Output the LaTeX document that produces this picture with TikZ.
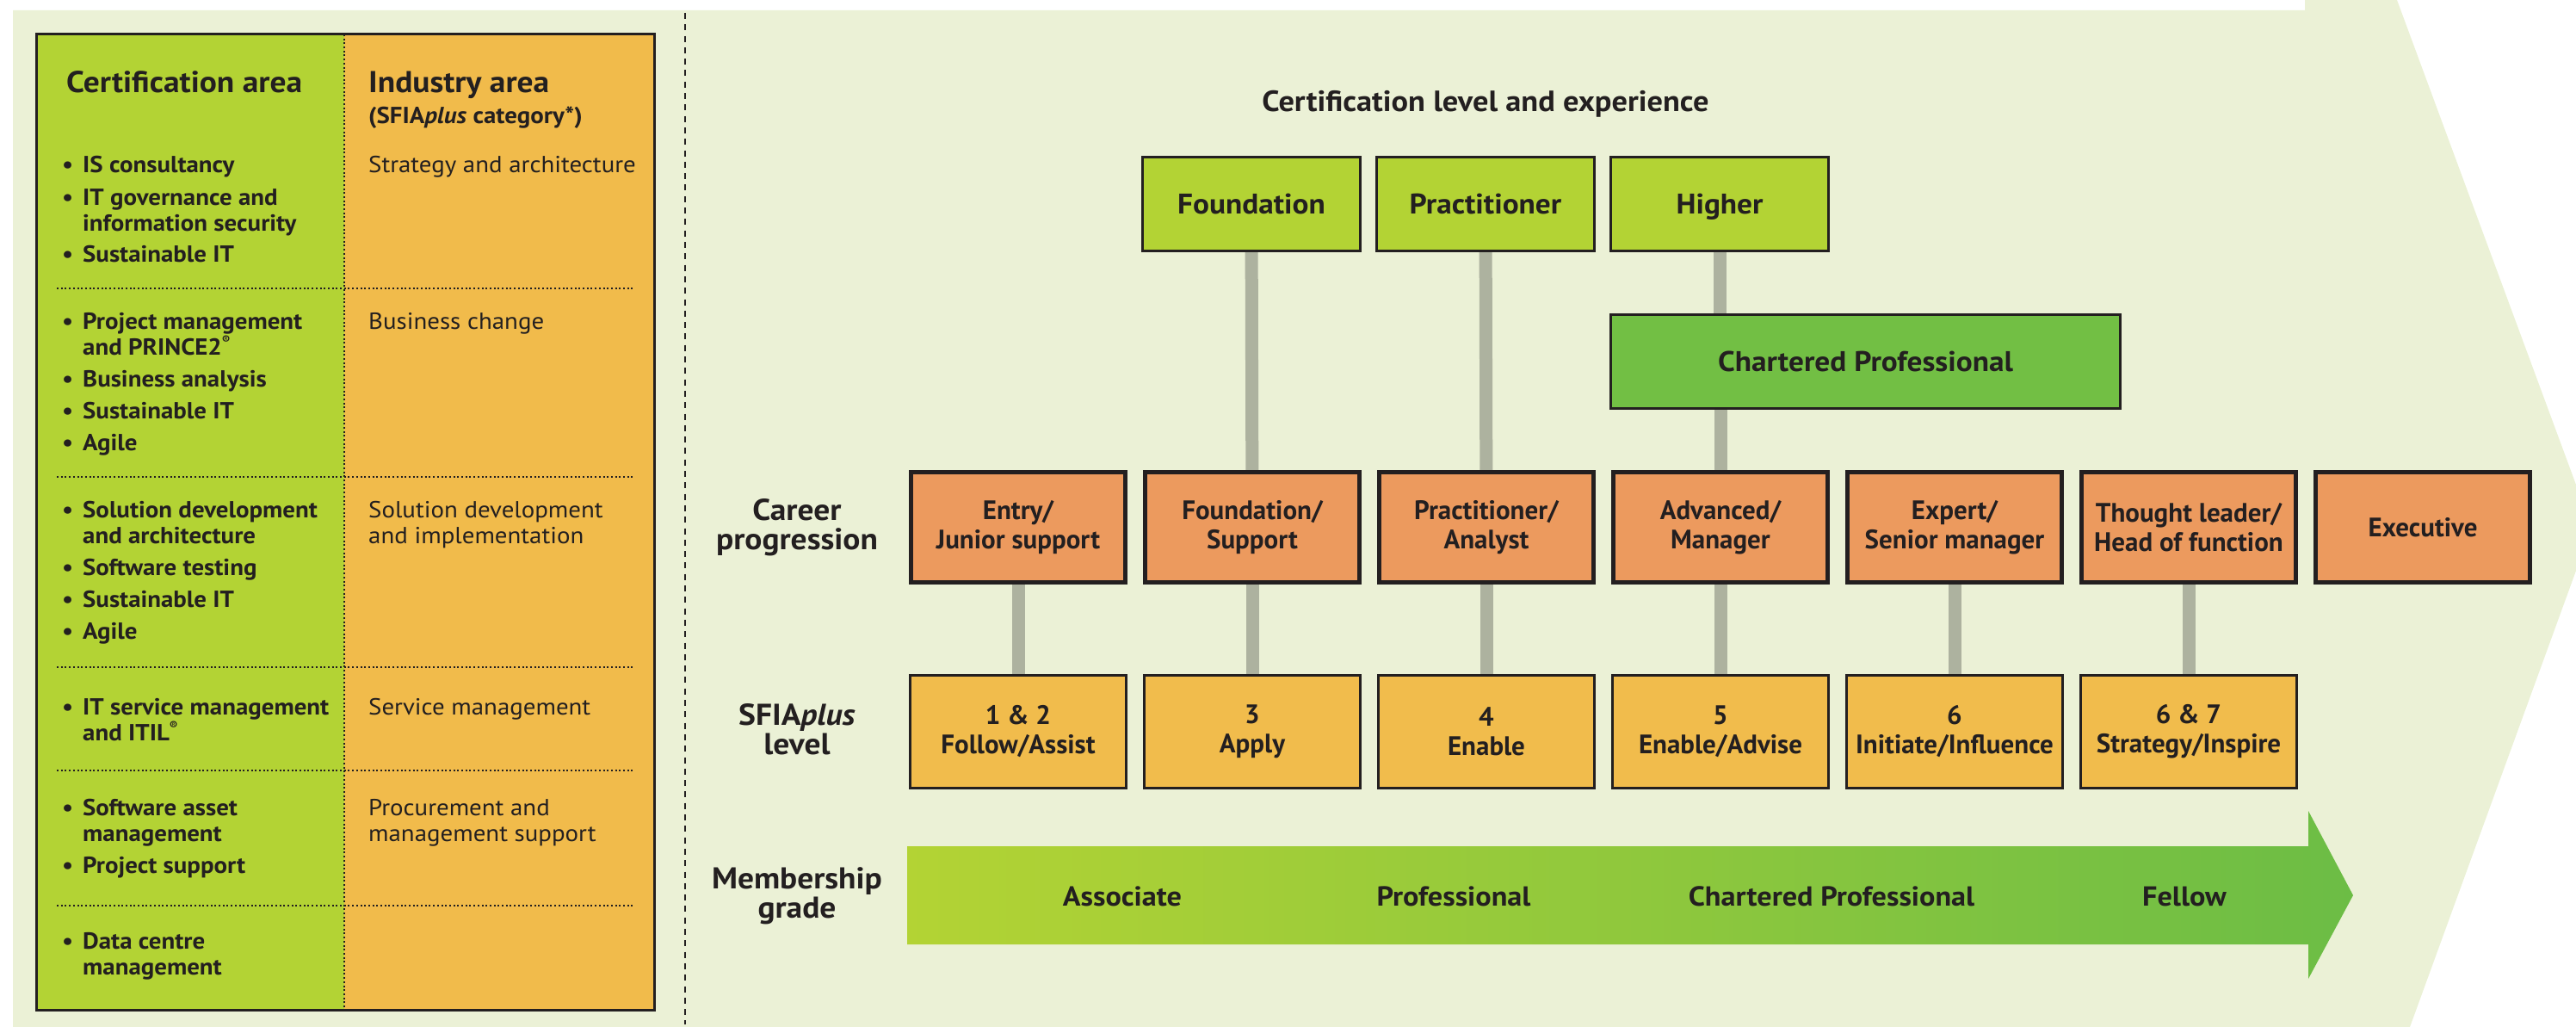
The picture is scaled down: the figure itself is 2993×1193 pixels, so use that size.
\documentclass[tikz,border=0pt]{standalone}
\usepackage{fontspec}
\setmainfont{PT Sans}[FakeStretch=1.07]
\newfontfamily\boxfont{PT Sans}
\usetikzlibrary{calc}
\definecolor{bgl}{HTML}{EBF1D6}
\definecolor{lime}{HTML}{B3D334}
\definecolor{colorg}{HTML}{F1BB4B}
\definecolor{careerc}{HTML}{EC9A5E}
\definecolor{sfiac}{HTML}{F1BC4C}
\definecolor{chartc}{HTML}{72BF44}
\definecolor{connc}{HTML}{ADB29F}
\definecolor{ink}{HTML}{231F20}
\definecolor{arrowr}{HTML}{6CBD45}
\pgfdeclarelayer{bg}
\pgfdeclarelayer{conn}
\pgfsetlayers{bg,conn,main}
\newcommand\bitem[1]{\hangindent=24pt\hangafter=1\noindent\makebox[24pt][l]{•}#1\par}
\newcommand\igap{\vspace{7pt}}
\newcommand\regm{\raisebox{0.45em}{\fontsize{13}{13}\selectfont ®}}
\tikzset{
  lblbox/.style={font=\boxfont\fontsize{31}{34}\selectfont\bfseries, text=ink, align=center, inner sep=0pt},
  lblcert/.style={font=\fontsize{33}{36}\selectfont\bfseries, text=ink, align=center, inner sep=0pt},
  lblarrow/.style={font=\fontsize{32}{34}\selectfont\bfseries, text=ink, inner sep=0pt},
  lblrow/.style={font=\fontsize{35}{34}\selectfont\bfseries, text=ink, inner sep=0pt},
  titlefont/.style={font=\fontsize{34}{36}\selectfont\bfseries, text=ink, inner sep=0pt},
  hfont/.style={font=\fontsize{35}{40}\selectfont\bfseries, text=ink, inner sep=0pt},
  bfont/.style={font=\fontsize{27}{30}\selectfont\bfseries, text=ink, inner sep=0pt},
  ifont/.style={font=\fontsize{27}{30}\selectfont, text=ink, inner sep=0pt},
  certbox/.style={lblcert, text height=23pt, text depth=0pt, draw=ink, line width=3pt, fill=lime, minimum width=253pt, minimum height=109pt},
  charterbox/.style={lblcert, text height=23pt, text depth=0pt, draw=ink, line width=3pt, fill=chartc, minimum width=592pt, minimum height=109pt},
  careerbox/.style={lblbox, draw=ink, line width=5pt, fill=careerc, minimum width=249pt, minimum height=128pt},
  sfiabox/.style={lblbox, draw=ink, line width=3pt, fill=sfiac, minimum width=251pt, minimum height=131pt},
  connline/.style={draw=connc, line width=15pt},
  dotline/.style={draw=ink, line width=2pt, dash pattern=on 2pt off 2.7pt},
}
\begin{document}
\begin{tikzpicture}[x=1pt,y=-1pt]
\useasboundingbox (0,0) rectangle (2993,1193);
\begin{pgfonlayer}{bg}
\fill[bgl] (15,12) -- (2678,12) -- (2678,0) -- (2785,0) -- (2993,563) -- (2993,663) -- (2800,1193) -- (15,1193) -- cycle;
\end{pgfonlayer}

% left panel
\fill[lime] (42,40) rectangle (400,1173);
\fill[colorg] (400,40) rectangle (760,1173);
\draw[dotline] (400,40) -- (400,1173);
\foreach \yy in {335,554,775,895,1052} \draw[dotline] (66,\yy) -- (735,\yy);
\draw[ink, line width=3pt] (42,40) rectangle (760,1173);

\node (hcert) [hfont, anchor=base west] at (77,108) {Certification area};
\node (hind) [hfont, anchor=base west] at (428,108) {Industry area};
\node (hsub) [bfont, anchor=base west] at (428,144) {(SFIA\textit{plus} category*)};

\node (s1) [bfont, anchor=base west] at (72,201) {\parbox[t]{400pt}{\bitem{IS consultancy}\igap\bitem{IT governance and\\information security}\igap\bitem{Sustainable IT}}};
\node (s2) [bfont, anchor=base west] at (72,382) {\parbox[t]{400pt}{\bitem{Project management\\and PRINCE2\regm}\igap\bitem{Business analysis}\igap\bitem{Sustainable IT}\igap\bitem{Agile}}};
\node (s3) [bfont, anchor=base west] at (72,601) {\parbox[t]{400pt}{\bitem{Solution development\\and architecture}\igap\bitem{Software testing}\igap\bitem{Sustainable IT}\igap\bitem{Agile}}};
\node (s4) [bfont, anchor=base west] at (72,830) {\parbox[t]{400pt}{\bitem{IT service management\\and ITIL\regm}}};
\node (s5) [bfont, anchor=base west] at (72,947) {\parbox[t]{400pt}{\bitem{Software asset\\management}\igap\bitem{Project support}}};
\node (s6) [bfont, anchor=base west] at (72,1102) {\parbox[t]{400pt}{\bitem{Data centre\\management}}};

\node (i1) [ifont, anchor=base west] at (428,201) {Strategy and architecture};
\node (i2) [ifont, anchor=base west] at (428,382) {Business change};
\node (i3) [ifont, anchor=base west] at (428,601) {\parbox[t]{320pt}{Solution development\\and implementation}};
\node (i4) [ifont, anchor=base west] at (428,830) {Service management};
\node (i5) [ifont, anchor=base west] at (428,947) {\parbox[t]{320pt}{Procurement and\\management support}};

% separator
\draw[ink, line width=2.5pt, dash pattern=on 7pt off 6.3pt] (796,15) -- (796,1190);

% right part
\node (title) [titlefont, anchor=base] at (1726,130) {Certification level and experience};

\node (cf)  [certbox] at (1454,237) {Foundation};
\node (cpr) [certbox] at (1726,237) {Practitioner};
\node (ch)  [certbox] at (1998,237) {Higher};
\node (chp) [charterbox] at (2167.5,420) {Chartered Professional};

\node (cp1) [careerbox] at (1183,612.5) {Entry/\\Junior support};
\node (cp2) [careerbox] at (1455,612.5) {Foundation/\\Support};
\node (cp3) [careerbox] at (1727,612.5) {Practitioner/\\Analyst};
\node (cp4) [careerbox] at (1999,612.5) {Advanced/\\Manager};
\node (cp5) [careerbox] at (2271,612.5) {Expert/\\Senior manager};
\node (cp6) [careerbox] at (2543,612.5) {Thought leader/\\Head of function};
\node (cp7) [careerbox, text height=21.7pt, text depth=0pt] at (2815,612.5) {Executive};

\node (sl1) [sfiabox] at (1183,850) {1 \& 2\\Follow/Assist};
\node (sl2) [sfiabox] at (1455,850) {3\\Apply};
\node (sl3) [sfiabox] at (1727,850) {4\\Enable};
\node (sl4) [sfiabox] at (1999,850) {5\\Enable/Advise};
\node (sl5) [sfiabox] at (2271,850) {6\\Initiate/Influence};
\node (sl6) [sfiabox] at (2543,850) {6 \& 7\\Strategy/Inspire};

\begin{pgfonlayer}{conn}
\draw[connline] (cf.center) -- (cp2.center);
\draw[connline] (cpr.center) -- (cp3.center);
\draw[connline] (ch.center) -- (ch.center |- chp.center);
\draw[connline] (cp4.center |- chp.center) -- (cp4.center);
\foreach \i in {1,...,6} \draw[connline] (cp\i.center) -- (sl\i.center);
\end{pgfonlayer}

\node (rcareer) [lblrow, anchor=base] at (926,604) {\parbox[t]{300pt}{\centering Career\\progression}};
\node (rsfia) [lblrow, anchor=base] at (926,842) {\parbox[t]{300pt}{\centering SFIA\textit{plus}\\level}};
\node (rmember) [lblrow, anchor=base] at (926,1032) {\parbox[t]{300pt}{\centering Membership\\grade}};

% membership arrow
\shade[left color=lime, right color=arrowr] (1054,983) -- (2682,983) -- (2682,942) -- (2734,1040) -- (2682,1137) -- (2682,1097) -- (1054,1097) -- cycle;
\node (ga) [lblarrow, anchor=base] at (1304,1052) {Associate};
\node (gp) [lblarrow, anchor=base] at (1689,1052) {Professional};
\node (gc) [lblarrow, anchor=base] at (2128,1052) {Chartered Professional};
\node (gf) [lblarrow, anchor=base] at (2538,1052) {Fellow};
\end{tikzpicture}
\end{document}
